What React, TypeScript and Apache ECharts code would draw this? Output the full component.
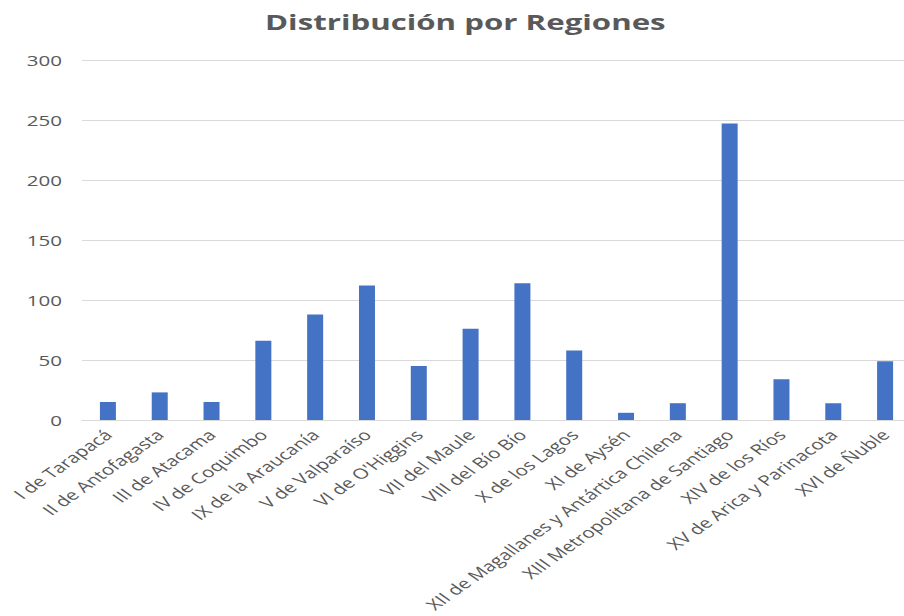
import React, { useEffect, useRef } from "react";
import * as echarts from "echarts";

const categories: string[] = [
  "I de Tarapacá",
  "II de Antofagasta",
  "III de Atacama",
  "IV de Coquimbo",
  "IX de la Araucanía",
  "V de Valparaíso",
  "VI de O'Higgins",
  "VII del Maule",
  "VIII del Bío Bío",
  "X de los Lagos",
  "XI de Aysén",
  "XII de Magallanes y Antártica Chilena",
  "XIII Metropolitana de Santiago",
  "XIV de los Ríos",
  "XV de Arica y Parinacota",
  "XVI de Ñuble",
];

const values: number[] = [15, 23, 15, 66, 88, 112, 45, 76, 114, 58, 6, 14, 247, 34, 14, 49];

const yMin = 0;
const yMax = 300;
const yInterval = 50;

const titleText = "Distribución por Regiones";

// the reference picture is stretched horizontally; draw narrower, then stretch
const STRETCH = 1.42;
const W = 904 / STRETCH;
const H = 616;

export default function App() {
  const ref = useRef<HTMLDivElement>(null);
  useEffect(() => {
    if (!ref.current) return;
    const chart = echarts.init(ref.current, undefined, { renderer: "svg" });
    const font = "'Open Sans', 'Noto Sans', sans-serif";
    chart.setOption({
      animation: false,
      backgroundColor: "#ffffff",
      title: {
        text: titleText,
        left: 265 / STRETCH,
        top: 10,
        padding: 0,
        textStyle: {
          fontFamily: font,
          fontSize: 22,
          fontWeight: "bold",
          color: "#595959",
        },
      },
      grid: {
        left: 82 / STRETCH,
        top: 60,
        width: 829 / STRETCH,
        bottom: 196,
        containLabel: false,
        outerBoundsMode: "none",
      },
      xAxis: {
        type: "category",
        data: categories,
        axisLine: { show: true, lineStyle: { color: "#d9d9d9", width: 1 } },
        axisTick: { show: false },
        axisLabel: {
          rotate: 45,
          interval: 0,
          fontFamily: font,
          fontSize: 14.5,
          color: "#595959",
          margin: 12,
        },
      },
      yAxis: {
        type: "value",
        min: yMin,
        max: yMax,
        interval: yInterval,
        axisLine: { show: false },
        axisTick: { show: false },
        splitLine: { lineStyle: { color: "#d9d9d9", width: 1 } },
        axisLabel: {
          fontFamily: font,
          fontSize: 14.5,
          color: "#595959",
          margin: 20 / STRETCH,
        },
      },
      series: [
        {
          type: "bar",
          data: values,
          barWidth: 16 / STRETCH,
          itemStyle: { color: "#4472C4" },
        },
      ],
    });
    return () => chart.dispose();
  }, []);
  return (
    <div
      ref={ref}
      style={{
        position: "fixed",
        left: 0,
        top: 0,
        width: W,
        height: H,
        transform: `scaleX(${STRETCH})`,
        transformOrigin: "0 0",
      }}
    />
  );
}
